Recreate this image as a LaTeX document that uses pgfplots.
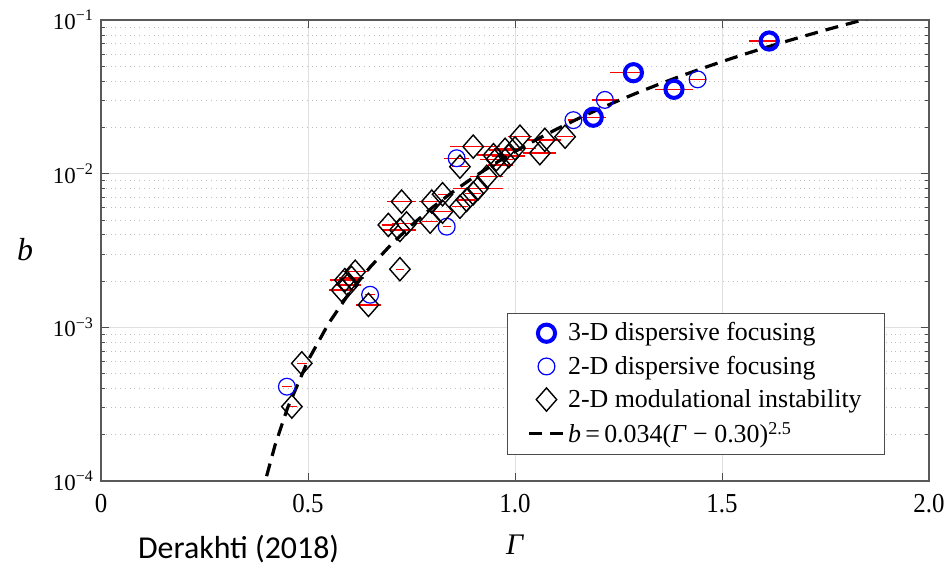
\documentclass[border=0pt]{standalone}
\usepackage{fontspec}
\setmainfont{Liberation Serif}
\newfontfamily\calibri{Carlito}
\usepackage{pgfplots}
\pgfplotsset{compat=1.18}
\usepackage{pgfplotstable}

% a slightly wider diamond than the stock one
\pgfdeclareplotmark{wdiamond}{%
  \pgfpathmoveto{\pgfqpoint{0pt}{\pgfplotmarksize}}%
  \pgfpathlineto{\pgfqpoint{0.88\pgfplotmarksize}{0pt}}%
  \pgfpathlineto{\pgfqpoint{0pt}{-\pgfplotmarksize}}%
  \pgfpathlineto{\pgfqpoint{-0.88\pgfplotmarksize}{0pt}}%
  \pgfpathclose\pgfusepathqstroke}

% 3-D dispersive focusing: Gamma, b, left/right spread of Gamma
\pgfplotstableread{
g      b       em     ep
1.189  0.0233  0.030  0.030
1.286  0.0454  0.057  0.016
1.384  0.0354  0.045  0.045
1.614  0.0730  0.050  0.022
}\threeD

% 2-D dispersive focusing
\pgfplotstableread{
g      b        em     ep
0.449  4.11e-4  0.012  0.012
0.650  1.63e-3  0.012  0.012
0.835  4.52e-3  0.010  0.010
0.859  1.26e-2  0.030  0.030
1.141  2.23e-2  0.012  0.012
1.217  3.02e-2  0.030  0.030
1.441  4.11e-2  0.020  0.020
}\twoDdisp

% 2-D modulational instability
\pgfplotstableread{
g      b        em     ep
0.461  3.05e-4  0.012  0.012
0.485  5.83e-4  0.012  0.012
0.581  1.75e-3  0.030  0.030
0.589  2.03e-3  0.035  0.035
0.597  1.89e-3  0.030  0.030
0.605  2.10e-3  0.030  0.030
0.614  2.30e-3  0.030  0.030
0.646  1.40e-3  0.030  0.030
0.722  2.39e-3  0.010  0.010
0.694  4.64e-3  0.015  0.015
0.722  4.30e-3  0.040  0.040
0.738  4.75e-3  0.035  0.035
0.726  6.58e-3  0.035  0.035
0.795  4.87e-3  0.020  0.020
0.799  6.58e-3  0.030  0.030
0.825  7.35e-3  0.010  0.010
0.825  5.66e-3  0.020  0.020
0.867  6.09e-3  0.020  0.020
0.883  6.75e-3  0.020  0.020
0.899  7.45e-3  0.020  0.020
0.911  8.03e-3  0.060  0.060
0.932  9.55e-3  0.040  0.040
0.867  1.11e-2  0.020  0.020
0.899  1.50e-2  0.056  0.065
0.948  1.32e-2  0.040  0.040
0.964  1.14e-2  0.030  0.030
0.976  1.43e-2  0.040  0.040
1.000  1.46e-2  0.050  0.050
1.012  1.74e-2  0.030  0.030
1.060  1.36e-2  0.040  0.040
1.072  1.66e-2  0.040  0.040
1.121  1.74e-2  0.020  0.020
0.955  1.24e-2  0.040  0.040
0.985  1.30e-2  0.040  0.040
}\twoDmi

% fitted curve b = 0.034 (Gamma - 0.30)^2.5, tabulated
\pgfplotstableread{
g     b
0.40  1.0752e-4
0.42  1.696e-4
0.45  2.963e-4
0.50  6.082e-4
0.55  1.0625e-3
0.60  1.676e-3
0.65  2.464e-3
0.70  3.441e-3
0.75  4.619e-3
0.80  6.010e-3
0.85  7.628e-3
0.90  9.481e-3
0.95  1.1581e-2
1.00  1.3939e-2
1.05  1.6563e-2
1.10  1.9463e-2
1.15  2.2648e-2
1.20  2.6127e-2
1.25  2.9908e-2
1.30  3.4000e-2
1.35  3.8411e-2
1.40  4.3148e-2
1.45  4.8219e-2
1.50  5.3633e-2
1.55  5.9396e-2
1.60  6.5515e-2
1.65  7.1997e-2
1.70  7.8850e-2
1.75  8.6080e-2
1.80  9.3693e-2
1.85  1.0170e-1
}\fitcurve

\newcommand\dec[1]{10\textsuperscript{−#1}}

\begin{document}
\begin{tikzpicture}[x=1bp,y=1bp]
\useasboundingbox (-50.5,-46) rectangle (424,240.5);
\begin{axis}[
  at={(0,0)}, anchor=south west,
  scale only axis, width=414bp, height=230.5bp,
  ymode=log,
  xmin=0, xmax=2, ymin=1e-4, ymax=1e-1,
  xtick={0,0.5,1,1.5,2},
  xticklabels={0,0.5,1.0,1.5,2.0},
  ytick={1e-4,1e-3,1e-2,1e-1},
  yticklabels={\dec{4},\dec{3},\dec{2},\dec{1}},
  tick align=inside,
  major tick length=4bp, minor tick length=2bp,
  every tick/.style={black!70, line width=0.4bp},
  axis line style={black!65, line width=0.6bp},
  xmajorgrids, ymajorgrids, yminorgrids,
  major grid style={black!12, line width=0.5bp},
  minor grid style={black!25, line width=0.4bp, dotted},
  xticklabel style={font=\fontsize{12.5}{13}\selectfont, yshift=-3bp, yscale=1.1},
  yticklabel style={font=\fontsize{11.5}{12}\selectfont},
  legend cell align=left,
  legend style={
    at={(0.947,0.056)}, anchor=south east,
    draw=black!70, line width=0.5bp, fill=white,
    font=\fontsize{13}{14}\selectfont,
    inner xsep=10bp, inner ysep=3bp, row sep=3bp,
    nodes={inner sep=1.5bp},
    /tikz/every even column/.append style={column sep=5bp},
  },
  legend image post style={xshift=-8bp},
]
\addplot[only marks, mark=o, mark size=4.3bp, blue, line width=2bp,
  error bars/.cd, x dir=both, x explicit, error mark=none,
  error bar style={red, line width=0.7bp}]
  table[x=g, y=b, x error plus=ep, x error minus=em] {\threeD};
\addplot[only marks, mark=o, mark size=4.2bp, blue, line width=0.6bp,
  error bars/.cd, x dir=both, x explicit, error mark=none,
  error bar style={red, line width=0.7bp}]
  table[x=g, y=b, x error plus=ep, x error minus=em] {\twoDdisp};
\addplot[only marks, mark=wdiamond, mark size=5.8bp, black, line width=0.7bp,
  error bars/.cd, x dir=both, x explicit, error mark=none,
  error bar style={red, line width=0.7bp}]
  table[x=g, y=b, x error plus=ep, x error minus=em] {\twoDmi};
\addplot[black, line width=1.6bp, dash pattern=on 6.5bp off 4bp]
  table[x=g, y=b] {\fitcurve};
\legend{3-D dispersive focusing, 2-D dispersive focusing, 2-D modulational instability,
  \textit{b}\,=\,0.034(\textit{Γ} − 0.30)\textsuperscript{2.5}}
\end{axis}
\node at (207,-32) {\fontsize{15}{15}\selectfont\textit{Γ}};
\node at (-38,115.5) {\fontsize{16}{16}\selectfont\textit{b}};
\node[anchor=west] at (15,-34) {\calibri\fontsize{16}{16}\selectfont Derakhti (2018)};
\end{tikzpicture}
\end{document}
